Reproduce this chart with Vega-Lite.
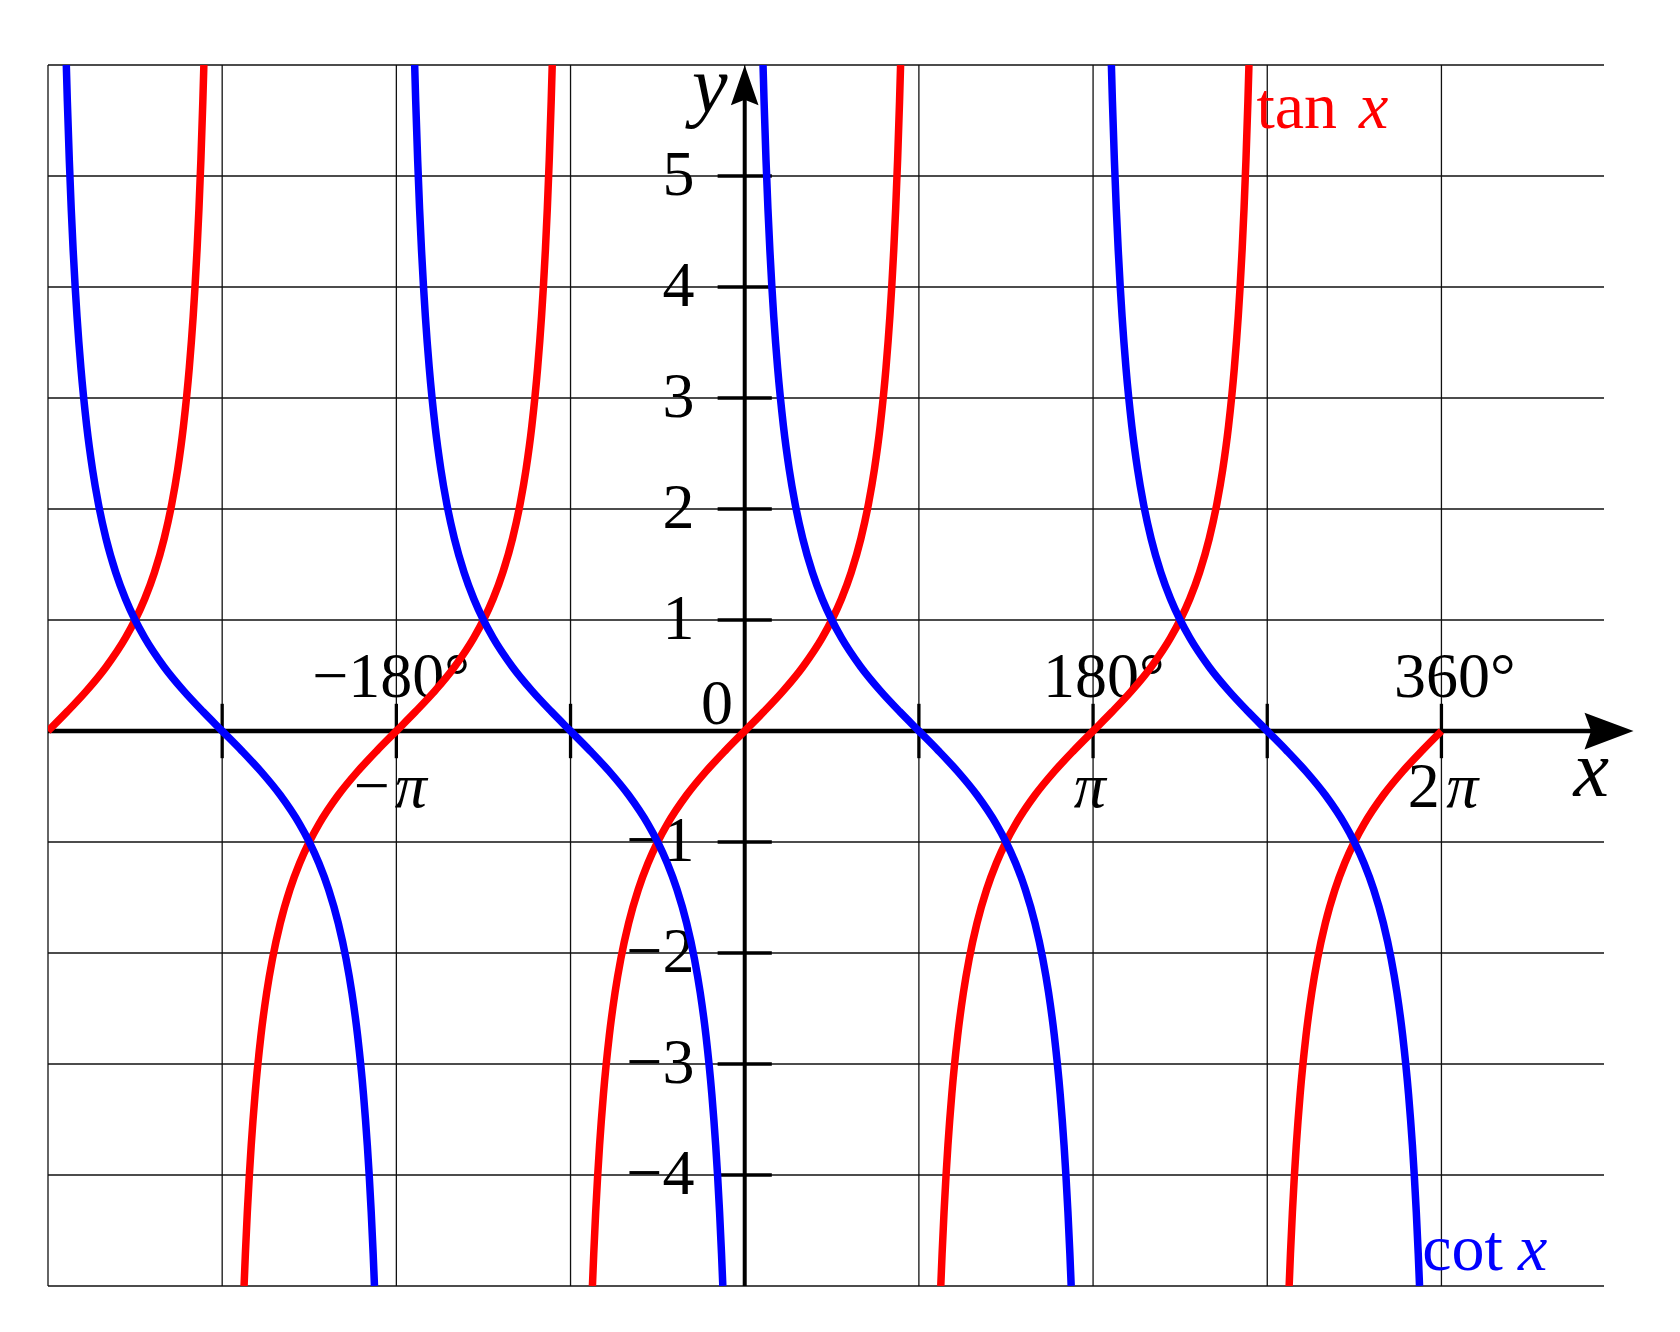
{
"$schema": "https://vega.github.io/schema/vega-lite/v6.json",
"autosize": {"type": "none"},
"width": 1556,
"height": 1221,
"padding": {"left": 48, "top": 65, "right": 76, "bottom": 46},
"background": "white",
"config": {"view": {"stroke": null}},
"datasets": {
"gx": [{"x":-360},{"x":-270},{"x":-180},{"x":-90},{"x":0},{"x":90},{"x":180},{"x":270},{"x":360}],
"gy": [{"y":-5},{"y":-4},{"y":-3},{"y":-2},{"y":-1},{"y":0},{"y":1},{"y":2},{"y":3},{"y":4},{"y":5},{"y":6}],
"ylab": [{"y":5,"t":"5"},{"y":4,"t":"4"},{"y":3,"t":"3"},{"y":2,"t":"2"},{"y":1,"t":"1"},{"y":-1,"t":"−1"},{"y":-2,"t":"−2"},{"y":-3,"t":"−3"},{"y":-4,"t":"−4"}],
"rlab": [{"x":-142,"y":0.307,"t":"−180°"},{"x":217,"y":0.307,"t":"180°"},{"x":398.3,"y":0.307,"t":"360°"},{"x":-6,"y":0.066,"t":"0"},{"x":-183.4,"y":-0.687,"t":"−"},{"x":359.1,"y":-0.687,"t":"2"}],
"pilab": [{"x":-180.8,"y":-0.687,"t":"π"},{"x":170,"y":-0.687,"t":"π"},{"x":362.5,"y":-0.687,"t":"π"}],
"varlab": [{"x":437.4,"y":-0.587,"t":"x"},{"x":-18.1,"y":5.574,"t":"y"}],
"fnlab": [{"x":264.4,"y":5.435,"t":"tan","f":"tan"},{"x":350.1,"y":-4.857,"t":"cot","f":"cot"}],
"fnvar": [{"x":317.4,"y":5.435,"t":"x","f":"tan"},{"x":399.5,"y":-4.857,"t":"x","f":"cot"}],
"xt": [{"x":-270},{"x":-180},{"x":-90},{"x":90},{"x":180},{"x":270},{"x":360}],
"yt": [{"y":-4},{"y":-3},{"y":-2},{"y":-1},{"y":1},{"y":2},{"y":3},{"y":4},{"y":5}],
"curves": [
{"f":"tan","b":"t0","x":-360,"y":0},{"f":"tan","b":"t0","x":-350,"y":0.17633},{"f":"tan","b":"t0","x":-340,"y":0.36397},{"f":"tan","b":"t0","x":-330,"y":0.57735},{"f":"tan","b":"t0","x":-320,"y":0.8391},{"f":"tan","b":"t0","x":-315,"y":1},{"f":"tan","b":"t0","x":-310,"y":1.19175},{"f":"tan","b":"t0","x":-305,"y":1.42815},{"f":"tan","b":"t0","x":-300,"y":1.73205},{"f":"tan","b":"t0","x":-296,"y":2.0503},{"f":"tan","b":"t0","x":-293,"y":2.35585},{"f":"tan","b":"t0","x":-290,"y":2.74748},{"f":"tan","b":"t0","x":-287,"y":3.27085},{"f":"tan","b":"t0","x":-285,"y":3.73205},{"f":"tan","b":"t0","x":-284,"y":4.01078},{"f":"tan","b":"t0","x":-283,"y":4.33148},{"f":"tan","b":"t0","x":-282,"y":4.70463},{"f":"tan","b":"t0","x":-281,"y":5.14455},{"f":"tan","b":"t0","x":-280,"y":5.67128},{"f":"tan","b":"t0","x":-279.46,"y":6},
{"f":"tan","b":"t1","x":-258.69,"y":-5},{"f":"tan","b":"t1","x":-258,"y":-4.70463},{"f":"tan","b":"t1","x":-257,"y":-4.33148},{"f":"tan","b":"t1","x":-256,"y":-4.01078},{"f":"tan","b":"t1","x":-255,"y":-3.73205},{"f":"tan","b":"t1","x":-253,"y":-3.27085},{"f":"tan","b":"t1","x":-250,"y":-2.74748},{"f":"tan","b":"t1","x":-247,"y":-2.35585},{"f":"tan","b":"t1","x":-244,"y":-2.0503},{"f":"tan","b":"t1","x":-240,"y":-1.73205},{"f":"tan","b":"t1","x":-235,"y":-1.42815},{"f":"tan","b":"t1","x":-230,"y":-1.19175},{"f":"tan","b":"t1","x":-225,"y":-1},{"f":"tan","b":"t1","x":-220,"y":-0.8391},{"f":"tan","b":"t1","x":-210,"y":-0.57735},{"f":"tan","b":"t1","x":-200,"y":-0.36397},{"f":"tan","b":"t1","x":-190,"y":-0.17633},
{"f":"tan","b":"t1","x":-180,"y":0},{"f":"tan","b":"t1","x":-170,"y":0.17633},{"f":"tan","b":"t1","x":-160,"y":0.36397},{"f":"tan","b":"t1","x":-150,"y":0.57735},{"f":"tan","b":"t1","x":-140,"y":0.8391},{"f":"tan","b":"t1","x":-135,"y":1},{"f":"tan","b":"t1","x":-130,"y":1.19175},{"f":"tan","b":"t1","x":-125,"y":1.42815},{"f":"tan","b":"t1","x":-120,"y":1.73205},{"f":"tan","b":"t1","x":-116,"y":2.0503},{"f":"tan","b":"t1","x":-113,"y":2.35585},{"f":"tan","b":"t1","x":-110,"y":2.74748},{"f":"tan","b":"t1","x":-107,"y":3.27085},{"f":"tan","b":"t1","x":-105,"y":3.73205},{"f":"tan","b":"t1","x":-104,"y":4.01078},{"f":"tan","b":"t1","x":-103,"y":4.33148},{"f":"tan","b":"t1","x":-102,"y":4.70463},{"f":"tan","b":"t1","x":-101,"y":5.14455},{"f":"tan","b":"t1","x":-100,"y":5.67128},{"f":"tan","b":"t1","x":-99.46,"y":6},
{"f":"tan","b":"t2","x":-78.69,"y":-5},{"f":"tan","b":"t2","x":-78,"y":-4.70463},{"f":"tan","b":"t2","x":-77,"y":-4.33148},{"f":"tan","b":"t2","x":-76,"y":-4.01078},{"f":"tan","b":"t2","x":-75,"y":-3.73205},{"f":"tan","b":"t2","x":-73,"y":-3.27085},{"f":"tan","b":"t2","x":-70,"y":-2.74748},{"f":"tan","b":"t2","x":-67,"y":-2.35585},{"f":"tan","b":"t2","x":-64,"y":-2.0503},{"f":"tan","b":"t2","x":-60,"y":-1.73205},{"f":"tan","b":"t2","x":-55,"y":-1.42815},{"f":"tan","b":"t2","x":-50,"y":-1.19175},{"f":"tan","b":"t2","x":-45,"y":-1},{"f":"tan","b":"t2","x":-40,"y":-0.8391},{"f":"tan","b":"t2","x":-30,"y":-0.57735},{"f":"tan","b":"t2","x":-20,"y":-0.36397},{"f":"tan","b":"t2","x":-10,"y":-0.17633},
{"f":"tan","b":"t2","x":0,"y":0},{"f":"tan","b":"t2","x":10,"y":0.17633},{"f":"tan","b":"t2","x":20,"y":0.36397},{"f":"tan","b":"t2","x":30,"y":0.57735},{"f":"tan","b":"t2","x":40,"y":0.8391},{"f":"tan","b":"t2","x":45,"y":1},{"f":"tan","b":"t2","x":50,"y":1.19175},{"f":"tan","b":"t2","x":55,"y":1.42815},{"f":"tan","b":"t2","x":60,"y":1.73205},{"f":"tan","b":"t2","x":64,"y":2.0503},{"f":"tan","b":"t2","x":67,"y":2.35585},{"f":"tan","b":"t2","x":70,"y":2.74748},{"f":"tan","b":"t2","x":73,"y":3.27085},{"f":"tan","b":"t2","x":75,"y":3.73205},{"f":"tan","b":"t2","x":76,"y":4.01078},{"f":"tan","b":"t2","x":77,"y":4.33148},{"f":"tan","b":"t2","x":78,"y":4.70463},{"f":"tan","b":"t2","x":79,"y":5.14455},{"f":"tan","b":"t2","x":80,"y":5.67128},{"f":"tan","b":"t2","x":80.54,"y":6},
{"f":"tan","b":"t3","x":101.31,"y":-5},{"f":"tan","b":"t3","x":102,"y":-4.70463},{"f":"tan","b":"t3","x":103,"y":-4.33148},{"f":"tan","b":"t3","x":104,"y":-4.01078},{"f":"tan","b":"t3","x":105,"y":-3.73205},{"f":"tan","b":"t3","x":107,"y":-3.27085},{"f":"tan","b":"t3","x":110,"y":-2.74748},{"f":"tan","b":"t3","x":113,"y":-2.35585},{"f":"tan","b":"t3","x":116,"y":-2.0503},{"f":"tan","b":"t3","x":120,"y":-1.73205},{"f":"tan","b":"t3","x":125,"y":-1.42815},{"f":"tan","b":"t3","x":130,"y":-1.19175},{"f":"tan","b":"t3","x":135,"y":-1},{"f":"tan","b":"t3","x":140,"y":-0.8391},{"f":"tan","b":"t3","x":150,"y":-0.57735},{"f":"tan","b":"t3","x":160,"y":-0.36397},{"f":"tan","b":"t3","x":170,"y":-0.17633},
{"f":"tan","b":"t3","x":180,"y":0},{"f":"tan","b":"t3","x":190,"y":0.17633},{"f":"tan","b":"t3","x":200,"y":0.36397},{"f":"tan","b":"t3","x":210,"y":0.57735},{"f":"tan","b":"t3","x":220,"y":0.8391},{"f":"tan","b":"t3","x":225,"y":1},{"f":"tan","b":"t3","x":230,"y":1.19175},{"f":"tan","b":"t3","x":235,"y":1.42815},{"f":"tan","b":"t3","x":240,"y":1.73205},{"f":"tan","b":"t3","x":244,"y":2.0503},{"f":"tan","b":"t3","x":247,"y":2.35585},{"f":"tan","b":"t3","x":250,"y":2.74748},{"f":"tan","b":"t3","x":253,"y":3.27085},{"f":"tan","b":"t3","x":255,"y":3.73205},{"f":"tan","b":"t3","x":256,"y":4.01078},{"f":"tan","b":"t3","x":257,"y":4.33148},{"f":"tan","b":"t3","x":258,"y":4.70463},{"f":"tan","b":"t3","x":259,"y":5.14455},{"f":"tan","b":"t3","x":260,"y":5.67128},{"f":"tan","b":"t3","x":260.54,"y":6},
{"f":"tan","b":"t4","x":281.31,"y":-5},{"f":"tan","b":"t4","x":282,"y":-4.70463},{"f":"tan","b":"t4","x":283,"y":-4.33148},{"f":"tan","b":"t4","x":284,"y":-4.01078},{"f":"tan","b":"t4","x":285,"y":-3.73205},{"f":"tan","b":"t4","x":287,"y":-3.27085},{"f":"tan","b":"t4","x":290,"y":-2.74748},{"f":"tan","b":"t4","x":293,"y":-2.35585},{"f":"tan","b":"t4","x":296,"y":-2.0503},{"f":"tan","b":"t4","x":300,"y":-1.73205},{"f":"tan","b":"t4","x":305,"y":-1.42815},{"f":"tan","b":"t4","x":310,"y":-1.19175},{"f":"tan","b":"t4","x":315,"y":-1},{"f":"tan","b":"t4","x":320,"y":-0.8391},{"f":"tan","b":"t4","x":330,"y":-0.57735},{"f":"tan","b":"t4","x":340,"y":-0.36397},{"f":"tan","b":"t4","x":350,"y":-0.17633},{"f":"tan","b":"t4","x":360,"y":0},
{"f":"cot","b":"c0","x":-191.31,"y":-5},{"f":"cot","b":"c0","x":-192,"y":-4.70463},{"f":"cot","b":"c0","x":-193,"y":-4.33148},{"f":"cot","b":"c0","x":-194,"y":-4.01078},{"f":"cot","b":"c0","x":-195,"y":-3.73205},{"f":"cot","b":"c0","x":-197,"y":-3.27085},{"f":"cot","b":"c0","x":-200,"y":-2.74748},{"f":"cot","b":"c0","x":-203,"y":-2.35585},{"f":"cot","b":"c0","x":-206,"y":-2.0503},{"f":"cot","b":"c0","x":-210,"y":-1.73205},{"f":"cot","b":"c0","x":-215,"y":-1.42815},{"f":"cot","b":"c0","x":-220,"y":-1.19175},{"f":"cot","b":"c0","x":-225,"y":-1},{"f":"cot","b":"c0","x":-230,"y":-0.8391},{"f":"cot","b":"c0","x":-240,"y":-0.57735},{"f":"cot","b":"c0","x":-250,"y":-0.36397},{"f":"cot","b":"c0","x":-260,"y":-0.17633},
{"f":"cot","b":"c0","x":-270,"y":0},{"f":"cot","b":"c0","x":-280,"y":0.17633},{"f":"cot","b":"c0","x":-290,"y":0.36397},{"f":"cot","b":"c0","x":-300,"y":0.57735},{"f":"cot","b":"c0","x":-310,"y":0.8391},{"f":"cot","b":"c0","x":-315,"y":1},{"f":"cot","b":"c0","x":-320,"y":1.19175},{"f":"cot","b":"c0","x":-325,"y":1.42815},{"f":"cot","b":"c0","x":-330,"y":1.73205},{"f":"cot","b":"c0","x":-334,"y":2.0503},{"f":"cot","b":"c0","x":-337,"y":2.35585},{"f":"cot","b":"c0","x":-340,"y":2.74748},{"f":"cot","b":"c0","x":-343,"y":3.27085},{"f":"cot","b":"c0","x":-345,"y":3.73205},{"f":"cot","b":"c0","x":-346,"y":4.01078},{"f":"cot","b":"c0","x":-347,"y":4.33148},{"f":"cot","b":"c0","x":-348,"y":4.70463},{"f":"cot","b":"c0","x":-349,"y":5.14455},{"f":"cot","b":"c0","x":-350,"y":5.67128},{"f":"cot","b":"c0","x":-350.54,"y":6},
{"f":"cot","b":"c1","x":-11.31,"y":-5},{"f":"cot","b":"c1","x":-12,"y":-4.70463},{"f":"cot","b":"c1","x":-13,"y":-4.33148},{"f":"cot","b":"c1","x":-14,"y":-4.01078},{"f":"cot","b":"c1","x":-15,"y":-3.73205},{"f":"cot","b":"c1","x":-17,"y":-3.27085},{"f":"cot","b":"c1","x":-20,"y":-2.74748},{"f":"cot","b":"c1","x":-23,"y":-2.35585},{"f":"cot","b":"c1","x":-26,"y":-2.0503},{"f":"cot","b":"c1","x":-30,"y":-1.73205},{"f":"cot","b":"c1","x":-35,"y":-1.42815},{"f":"cot","b":"c1","x":-40,"y":-1.19175},{"f":"cot","b":"c1","x":-45,"y":-1},{"f":"cot","b":"c1","x":-50,"y":-0.8391},{"f":"cot","b":"c1","x":-60,"y":-0.57735},{"f":"cot","b":"c1","x":-70,"y":-0.36397},{"f":"cot","b":"c1","x":-80,"y":-0.17633},
{"f":"cot","b":"c1","x":-90,"y":0},{"f":"cot","b":"c1","x":-100,"y":0.17633},{"f":"cot","b":"c1","x":-110,"y":0.36397},{"f":"cot","b":"c1","x":-120,"y":0.57735},{"f":"cot","b":"c1","x":-130,"y":0.8391},{"f":"cot","b":"c1","x":-135,"y":1},{"f":"cot","b":"c1","x":-140,"y":1.19175},{"f":"cot","b":"c1","x":-145,"y":1.42815},{"f":"cot","b":"c1","x":-150,"y":1.73205},{"f":"cot","b":"c1","x":-154,"y":2.0503},{"f":"cot","b":"c1","x":-157,"y":2.35585},{"f":"cot","b":"c1","x":-160,"y":2.74748},{"f":"cot","b":"c1","x":-163,"y":3.27085},{"f":"cot","b":"c1","x":-165,"y":3.73205},{"f":"cot","b":"c1","x":-166,"y":4.01078},{"f":"cot","b":"c1","x":-167,"y":4.33148},{"f":"cot","b":"c1","x":-168,"y":4.70463},{"f":"cot","b":"c1","x":-169,"y":5.14455},{"f":"cot","b":"c1","x":-170,"y":5.67128},{"f":"cot","b":"c1","x":-170.54,"y":6},
{"f":"cot","b":"c2","x":168.69,"y":-5},{"f":"cot","b":"c2","x":168,"y":-4.70463},{"f":"cot","b":"c2","x":167,"y":-4.33148},{"f":"cot","b":"c2","x":166,"y":-4.01078},{"f":"cot","b":"c2","x":165,"y":-3.73205},{"f":"cot","b":"c2","x":163,"y":-3.27085},{"f":"cot","b":"c2","x":160,"y":-2.74748},{"f":"cot","b":"c2","x":157,"y":-2.35585},{"f":"cot","b":"c2","x":154,"y":-2.0503},{"f":"cot","b":"c2","x":150,"y":-1.73205},{"f":"cot","b":"c2","x":145,"y":-1.42815},{"f":"cot","b":"c2","x":140,"y":-1.19175},{"f":"cot","b":"c2","x":135,"y":-1},{"f":"cot","b":"c2","x":130,"y":-0.8391},{"f":"cot","b":"c2","x":120,"y":-0.57735},{"f":"cot","b":"c2","x":110,"y":-0.36397},{"f":"cot","b":"c2","x":100,"y":-0.17633},
{"f":"cot","b":"c2","x":90,"y":0},{"f":"cot","b":"c2","x":80,"y":0.17633},{"f":"cot","b":"c2","x":70,"y":0.36397},{"f":"cot","b":"c2","x":60,"y":0.57735},{"f":"cot","b":"c2","x":50,"y":0.8391},{"f":"cot","b":"c2","x":45,"y":1},{"f":"cot","b":"c2","x":40,"y":1.19175},{"f":"cot","b":"c2","x":35,"y":1.42815},{"f":"cot","b":"c2","x":30,"y":1.73205},{"f":"cot","b":"c2","x":26,"y":2.0503},{"f":"cot","b":"c2","x":23,"y":2.35585},{"f":"cot","b":"c2","x":20,"y":2.74748},{"f":"cot","b":"c2","x":17,"y":3.27085},{"f":"cot","b":"c2","x":15,"y":3.73205},{"f":"cot","b":"c2","x":14,"y":4.01078},{"f":"cot","b":"c2","x":13,"y":4.33148},{"f":"cot","b":"c2","x":12,"y":4.70463},{"f":"cot","b":"c2","x":11,"y":5.14455},{"f":"cot","b":"c2","x":10,"y":5.67128},{"f":"cot","b":"c2","x":9.46,"y":6},
{"f":"cot","b":"c3","x":348.69,"y":-5},{"f":"cot","b":"c3","x":348,"y":-4.70463},{"f":"cot","b":"c3","x":347,"y":-4.33148},{"f":"cot","b":"c3","x":346,"y":-4.01078},{"f":"cot","b":"c3","x":345,"y":-3.73205},{"f":"cot","b":"c3","x":343,"y":-3.27085},{"f":"cot","b":"c3","x":340,"y":-2.74748},{"f":"cot","b":"c3","x":337,"y":-2.35585},{"f":"cot","b":"c3","x":334,"y":-2.0503},{"f":"cot","b":"c3","x":330,"y":-1.73205},{"f":"cot","b":"c3","x":325,"y":-1.42815},{"f":"cot","b":"c3","x":320,"y":-1.19175},{"f":"cot","b":"c3","x":315,"y":-1},{"f":"cot","b":"c3","x":310,"y":-0.8391},{"f":"cot","b":"c3","x":300,"y":-0.57735},{"f":"cot","b":"c3","x":290,"y":-0.36397},{"f":"cot","b":"c3","x":280,"y":-0.17633},
{"f":"cot","b":"c3","x":270,"y":0},{"f":"cot","b":"c3","x":260,"y":0.17633},{"f":"cot","b":"c3","x":250,"y":0.36397},{"f":"cot","b":"c3","x":240,"y":0.57735},{"f":"cot","b":"c3","x":230,"y":0.8391},{"f":"cot","b":"c3","x":225,"y":1},{"f":"cot","b":"c3","x":220,"y":1.19175},{"f":"cot","b":"c3","x":215,"y":1.42815},{"f":"cot","b":"c3","x":210,"y":1.73205},{"f":"cot","b":"c3","x":206,"y":2.0503},{"f":"cot","b":"c3","x":203,"y":2.35585},{"f":"cot","b":"c3","x":200,"y":2.74748},{"f":"cot","b":"c3","x":197,"y":3.27085},{"f":"cot","b":"c3","x":195,"y":3.73205},{"f":"cot","b":"c3","x":194,"y":4.01078},{"f":"cot","b":"c3","x":193,"y":4.33148},{"f":"cot","b":"c3","x":192,"y":4.70463},{"f":"cot","b":"c3","x":191,"y":5.14455},{"f":"cot","b":"c3","x":190,"y":5.67128},{"f":"cot","b":"c3","x":189.46,"y":6}
]
},
"layer": [
{"data":{"name":"gx"},"mark":{"type":"rule","strokeWidth":1.3,"color":"#111111"},
 "encoding":{"x":{"field":"x","type":"quantitative","scale":{"domain":[-360,444],"nice":false,"zero":false},"axis":null},"y":{"datum":-5,"type":"quantitative","scale":{"domain":[-5,6],"nice":false,"zero":false},"axis":null},"y2":{"datum":6}}},
{"data":{"name":"gy"},"mark":{"type":"rule","strokeWidth":1.3,"color":"#111111"},
 "encoding":{"y":{"field":"y","type":"quantitative","axis":null},"x":{"datum":-360,"type":"quantitative","axis":null},"x2":{"datum":444}}},
{"data":{"name":"ylab"},"mark":{"type":"text","align":"right","baseline":"middle","fontSize":64,"font":"Liberation Serif","color":"black"},
 "encoding":{"x":{"datum":-26,"type":"quantitative","axis":null},"y":{"field":"y","type":"quantitative","axis":null},"text":{"field":"t"}}},
{"data":{"name":"rlab"},"mark":{"type":"text","align":"right","baseline":"alphabetic","fontSize":64,"font":"Liberation Serif","color":"black"},
 "encoding":{"x":{"field":"x","type":"quantitative","axis":null},"y":{"field":"y","type":"quantitative","axis":null},"text":{"field":"t"}}},
{"data":{"name":"pilab"},"mark":{"type":"text","align":"left","baseline":"alphabetic","fontSize":64,"font":"Liberation Serif","fontStyle":"italic","color":"black"},
 "encoding":{"x":{"field":"x","type":"quantitative","axis":null},"y":{"field":"y","type":"quantitative","axis":null},"text":{"field":"t"}}},
{"data":{"name":"varlab"},"mark":{"type":"text","align":"center","baseline":"alphabetic","fontSize":80,"font":"Liberation Serif","fontStyle":"italic","color":"black"},
 "encoding":{"x":{"field":"x","type":"quantitative","axis":null},"y":{"field":"y","type":"quantitative","axis":null},"text":{"field":"t"}}},
{"data":{"name":"fnlab"},"mark":{"type":"text","align":"left","baseline":"alphabetic","fontSize":66,"font":"Liberation Serif"},
 "encoding":{"x":{"field":"x","type":"quantitative","axis":null},"y":{"field":"y","type":"quantitative","axis":null},"text":{"field":"t"},"color":{"field":"f","type":"nominal","scale":{"domain":["tan","cot"],"range":["#ff0000","#0000ff"]},"legend":null}}},
{"data":{"name":"fnvar"},"mark":{"type":"text","align":"left","baseline":"alphabetic","fontSize":66,"font":"Liberation Serif","fontStyle":"italic"},
 "encoding":{"x":{"field":"x","type":"quantitative","axis":null},"y":{"field":"y","type":"quantitative","axis":null},"text":{"field":"t"},"color":{"field":"f","type":"nominal","legend":null}}},
{"data":{"values":[{}]},"mark":{"type":"rule","strokeWidth":4.5,"color":"black"},
 "encoding":{"x":{"datum":-360,"type":"quantitative","axis":null},"x2":{"datum":446},"y":{"datum":0,"type":"quantitative","axis":null}}},
{"data":{"values":[{}]},"mark":{"type":"rule","strokeWidth":4,"color":"black"},
 "encoding":{"x":{"datum":0,"type":"quantitative","axis":null},"y":{"datum":-5,"type":"quantitative","axis":null},"y2":{"datum":5.8}}},
{"data":{"name":"xt"},"mark":{"type":"rule","strokeWidth":3.3,"color":"black"},
 "encoding":{"x":{"field":"x","type":"quantitative","axis":null},"y":{"datum":-0.245,"type":"quantitative","axis":null},"y2":{"datum":0.245}}},
{"data":{"name":"yt"},"mark":{"type":"rule","strokeWidth":3.3,"color":"black"},
 "encoding":{"y":{"field":"y","type":"quantitative","axis":null},"x":{"datum":-14,"type":"quantitative","axis":null},"x2":{"datum":14}}},
{"data":{"name":"curves"},"mark":{"type":"line","strokeWidth":7.5,"interpolate":"monotone","clip":true,"strokeCap":"butt"},
 "encoding":{"x":{"field":"x","type":"quantitative","axis":null},"y":{"field":"y","type":"quantitative","axis":null},"color":{"field":"f","type":"nominal","legend":null},"detail":{"field":"b"}}},
{"data":{"values":[{}]},"mark":{"type":"point","shape":"M1,0L-1,-0.75L-0.73,0L-1,0.75Z","size":2401,"filled":true,"color":"black","opacity":1,"strokeWidth":0},
 "encoding":{"x":{"datum":446.6,"type":"quantitative","axis":null},"y":{"datum":0,"type":"quantitative","axis":null}}},
{"data":{"values":[{}]},"mark":{"type":"point","shape":"M0,-1L-0.69,1L0,0.73L0.69,1Z","size":1600,"filled":true,"color":"black","opacity":1,"strokeWidth":0},
 "encoding":{"x":{"datum":0,"type":"quantitative","axis":null},"y":{"datum":5.818,"type":"quantitative","axis":null}}}
]
}
